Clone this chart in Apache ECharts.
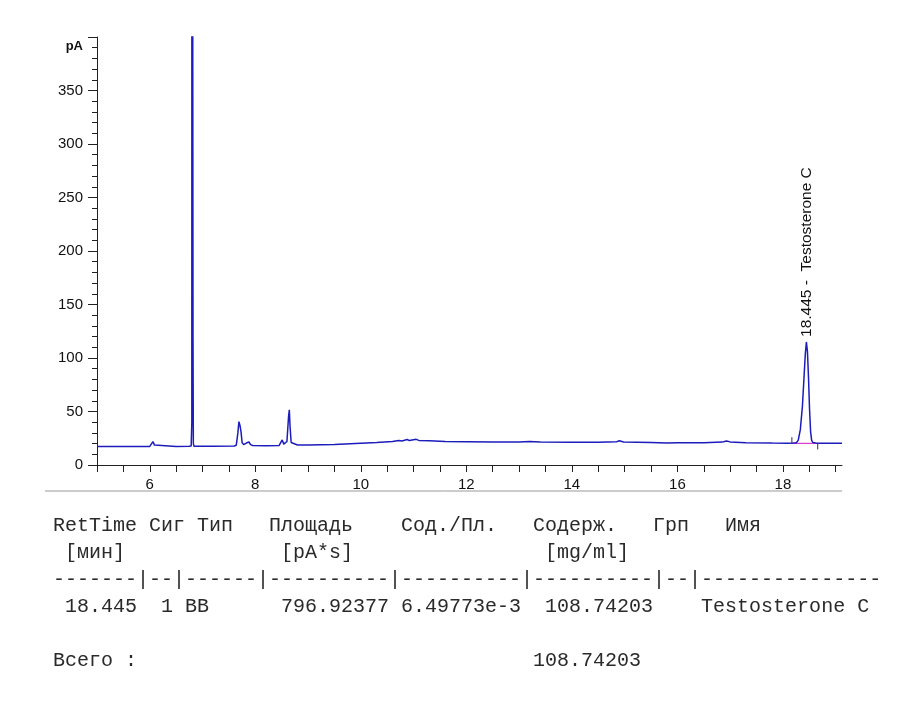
<!DOCTYPE html>
<html><head><meta charset="utf-8">
<script src="https://cdn.jsdelivr.net/npm/echarts@6/dist/echarts.min.js"></script>
<style>html,body{margin:0;padding:0;background:#fff}#c{width:908px;height:728px}</style>
</head><body><div id="c"></div>
<script>
// ---- data ----
const times = [5.00,5.50,6.00,6.03,6.06,6.09,6.12,6.50,6.74,6.785,6.797,6.80,6.815,6.82,6.826,6.84,7.20,7.60,7.64,7.67,7.69,7.71,7.73,7.75,7.78,7.80,7.83,7.85,7.88,7.91,7.95,8.20,8.45,8.48,8.51,8.54,8.57,8.60,8.63,8.645,8.66,8.68,8.71,8.80,9.00,9.50,10.00,10.30,10.60,10.72,10.78,10.88,10.92,11.05,11.10,11.30,11.60,12.00,12.50,13.00,13.20,13.40,14.00,14.50,14.85,14.90,14.98,15.50,15.80,16.00,16.50,16.85,16.93,17.00,17.30,17.80,18.10,18.20,18.25,18.29,18.33,18.37,18.40,18.425,18.445,18.465,18.485,18.505,18.525,18.545,18.57,18.62,18.70,19.12];
const signal = [17.2,17.3,17.4,17.6,21.8,18.6,17.4,17.4,17.5,17.8,40,1200,1200,116,20,17.6,17.6,17.8,18.5,30,40.5,37,31,21,19,18.5,20.5,19,21.5,19,18.2,18.0,18.2,19.5,23.4,19.5,18.8,22,45,51.5,35,21,19.2,18.7,18.6,19.2,20.3,21,22,23,22.5,23.8,22.8,24,23,22.6,22,21.8,21.6,21.4,22,21.4,21.3,21.2,21.8,22.6,21.5,21,20.6,20.8,20.8,21.4,22.5,21.6,20.7,20.5,20.4,20.5,20.6,23,33,55,82,104,115,106,82,52,31,23,21,20.5,20.4,20.4];
const baselineTimes = [18.17, 18.66];
const baselineValues = [20.3, 20.3];
const startMarkTimes = [18.17, 18.17];
const startMarkValues = [20.3, 26];
const endMarkTimes = [18.66, 18.66];
const endMarkValues = [20.3, 14.6];
const peakTime = 18.445;
const peakValue = 115;
const peakLabel = '18.445 -  Testosterone C';
const xTickValues = [5,5.5,6,6.5,7,7.5,8,8.5,9,9.5,10,10.5,11,11.5,12,12.5,13,13.5,14,14.5,15,15.5,16,16.5,17,17.5,18,18.5,19];
const xLabelValues = [6,8,10,12,14,16,18];
const yUnit = 'pA';
// report table (column, text)
const tableRows = [
  [[0,'RetTime'],[8,'Сиг'],[12,'Тип'],[18,'Площадь'],[29,'Сод./Пл.'],[40,'Содерж.'],[50,'Грп'],[56,'Имя']],
  [[1,'[мин]'],[19,'[pA*s]'],[41,'[mg/ml]']],
  [[0,'-------|--|------|----------|----------|----------|--|---------------']],
  [[1,'18.445'],[9,'1'],[11,'BB'],[19,'796.92377'],[29,'6.49773e-3'],[41,'108.74203'],[54,'Testosterone C']],
  [],
  [[0,'Всего :'],[40,'108.74203']]
];

function pairs(a, b) { return a.map((v, i) => [v, b[i]]); }
function rowText(row) {
  let s = '';
  row.forEach(([col, t]) => { while (s.length < col) s += ' '; s += t; });
  return s;
}

const chart = echarts.init(document.getElementById('c'), null, {renderer: 'canvas'});
const tableGraphics = tableRows.map((row, i) => ({
  type: 'text', x: 53, y: 526 + i * 27,
  style: { text: rowText(row), fontFamily: '"Liberation Mono", monospace', fontSize: 20, fill: '#2a2a2a', verticalAlign: 'middle', align: 'left' }
}));

chart.setOption({
  animation: false,
  backgroundColor: '#fff',
  grid: { left: 97, right: 66, top: 37, bottom: 263, containLabel: false },
  xAxis: {
    type: 'value', min: 5, max: 19.12, interval: 0.5,
    axisLine: { show: true, onZero: false, lineStyle: { color: '#222', width: 1 } },
    axisTick: { show: true, inside: false, length: 7, customValues: xTickValues, lineStyle: { color: '#222' } },
    axisLabel: { customValues: xLabelValues, fontFamily: '"Liberation Sans", Arial', fontSize: 15, color: '#111', margin: 12,
      formatter: v => (xLabelValues.indexOf(v) >= 0 ? String(v) : '') },
    splitLine: { show: false }
  },
  yAxis: {
    type: 'value', min: 0, max: 400, interval: 50,
    axisLine: { show: true, lineStyle: { color: '#222', width: 1 } },
    axisTick: { show: true, length: 9, lineStyle: { color: '#222' } },
    minorTick: { show: true, splitNumber: 5, length: 5, lineStyle: { color: '#222' } },
    axisLabel: { fontFamily: '"Liberation Sans", Arial', fontSize: 15, color: '#111', margin: 14,
      formatter: v => (v === 400 ? '{u|' + yUnit + '}' : String(v)),
      rich: { u: { fontFamily: '"Liberation Sans", Arial', fontSize: 13, fontWeight: 'bold', color: '#111', padding: [18, 0, 0, 0] } } },
    splitLine: { show: false }, minorSplitLine: { show: false }
  },
  series: [
    { type: 'line', data: pairs(baselineTimes, baselineValues), symbol: 'none', lineStyle: { color: '#e040d0', width: 1.3 }, z: 3 },
    { type: 'line', data: pairs(startMarkTimes, startMarkValues), symbol: 'none', lineStyle: { color: '#333', width: 1 }, z: 3 },
    { type: 'line', data: pairs(endMarkTimes, endMarkValues), symbol: 'none', lineStyle: { color: '#333', width: 1 }, z: 3 },
    { type: 'line', data: pairs(times, signal), symbol: 'none', clip: true, sampling: null,
      lineStyle: { color: '#1c1cbc', width: 1.5 }, z: 4,
      markPoint: { symbol: 'circle', symbolSize: 0, silent: true,
        data: [{ coord: [peakTime, peakValue] }],
        label: { show: true, formatter: peakLabel, rotate: 90, position: 'top', distance: 5, align: 'left', verticalAlign: 'middle',
          fontFamily: '"Liberation Sans", Arial', fontSize: 15.5, color: '#111' } } }
  ],
  graphic: [
    { type: 'line', shape: { x1: 45, y1: 491, x2: 842, y2: 491 }, style: { stroke: '#999', lineWidth: 1 } }
  ].concat(tableGraphics)
});
</script></body></html>
